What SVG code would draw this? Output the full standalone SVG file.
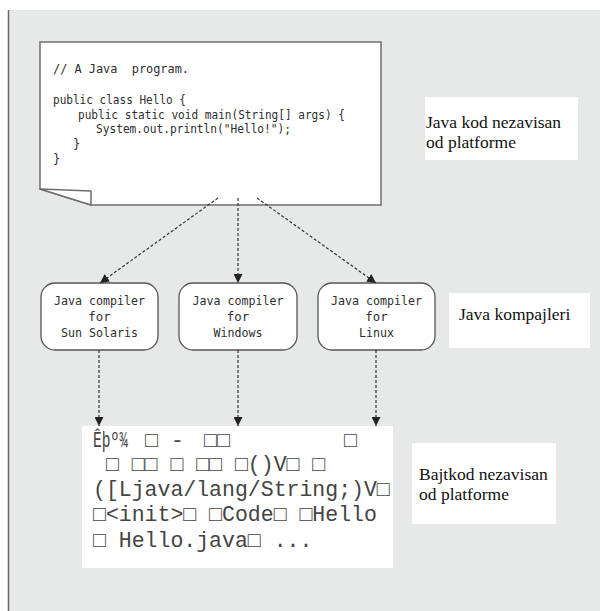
<svg xmlns="http://www.w3.org/2000/svg" width="600" height="611" viewBox="0 0 600 611">
<style>
.code{font-family:"DejaVu Sans Mono","Liberation Mono",monospace;font-size:12.2px;fill:#2e2e2e}
.comp{font-family:"DejaVu Sans Mono","Liberation Mono",monospace;font-size:12.4px;fill:#2e2e2e;text-anchor:middle}
.lbl{font-family:"Liberation Serif","Times New Roman",serif;font-size:17.5px;fill:#111}
.byte{font-family:"Liberation Mono","DejaVu Sans Mono",monospace;font-size:21.5px;fill:#444}
.lblbox{fill:#ffffff;stroke:none}
.cbox{fill:#ffffff;stroke:#555;stroke-width:1.3}
.conn{stroke:#333;stroke-width:1.2;stroke-dasharray:3 2;fill:none}
</style>
<defs>
<marker id="arr" markerUnits="userSpaceOnUse" markerWidth="9" markerHeight="9" refX="9" refY="4.5" orient="auto">
<path d="M0,0 L9,4.5 L0,9 z" fill="#222"/>
</marker>
</defs>
<g id="frame">
<rect x="0" y="0" width="600" height="611" fill="#ffffff"/>
<rect x="8" y="10" width="592" height="601" fill="#e7e9e9"/>
<line x1="8.5" y1="10" x2="8.5" y2="611" stroke="#666" stroke-width="1.5"/>
</g>
<g id="code-node">
<path d="M40,42 L381,42 L381,205 L91,205 L40,189 Z" fill="#ffffff" stroke="#6d6d6d" stroke-width="1.5"/>
<path d="M40,189 L91,191 L91,205 Z" fill="#ffffff" stroke="#6d6d6d" stroke-width="1.5" stroke-linejoin="round"/>
<text class="code" x="53" y="73" xml:space="preserve" textLength="136" lengthAdjust="spacingAndGlyphs">// A Java  program.</text>
<text class="code" x="53" y="104" textLength="133" lengthAdjust="spacingAndGlyphs">public class Hello {</text>
<text class="code" x="78" y="119" textLength="267" lengthAdjust="spacingAndGlyphs">public static void main(String[] args) {</text>
<text class="code" x="96" y="133" textLength="195" lengthAdjust="spacingAndGlyphs">System.out.println("Hello!");</text>
<text class="code" x="73" y="148">}</text>
<text class="code" x="53" y="163">}</text>
</g>
<g id="label-java-kod">
<rect class="lblbox" x="425" y="97" width="153" height="63"/>
<text class="lbl" x="426" y="128">Java kod nezavisan</text>
<text class="lbl" x="426" y="148">od platforme</text>
</g>
<g id="compiler-solaris">
<rect class="cbox" x="41" y="283" width="117" height="67" rx="14"/>
<text class="comp" x="99.5" y="305" textLength="91" lengthAdjust="spacingAndGlyphs">Java compiler</text>
<text class="comp" x="99.5" y="321">for</text>
<text class="comp" x="99.5" y="337" textLength="77" lengthAdjust="spacingAndGlyphs">Sun Solaris</text>
</g>
<g id="compiler-windows">
<rect class="cbox" x="179" y="283" width="118" height="67" rx="14"/>
<text class="comp" x="238" y="305" textLength="91" lengthAdjust="spacingAndGlyphs">Java compiler</text>
<text class="comp" x="238" y="321">for</text>
<text class="comp" x="238" y="337" textLength="49" lengthAdjust="spacingAndGlyphs">Windows</text>
</g>
<g id="compiler-linux">
<rect class="cbox" x="318" y="283" width="117" height="67" rx="14"/>
<text class="comp" x="376.5" y="305" textLength="91" lengthAdjust="spacingAndGlyphs">Java compiler</text>
<text class="comp" x="376.5" y="321">for</text>
<text class="comp" x="376.5" y="337" textLength="35" lengthAdjust="spacingAndGlyphs">Linux</text>
</g>
<g id="label-kompajleri">
<rect class="lblbox" x="449" y="293" width="141" height="55"/>
<text class="lbl" x="459" y="320">Java kompajleri</text>
</g>
<g id="bytecode-node">
<rect class="lblbox" x="82" y="426" width="311" height="142"/>
<text class="byte" y="447"><tspan x="93" textLength="35" lengthAdjust="spacingAndGlyphs">Êþº¾</tspan><tspan x="145">□</tspan><tspan x="171">-</tspan><tspan x="204">□□</tspan><tspan x="344">□</tspan></text>
<text class="byte" x="93" y="471" xml:space="preserve"> □ □□ □ □□ □()V□ □</text>
<text class="byte" x="93" y="496">([Ljava/lang/String;)V□</text>
<text class="byte" x="93" y="521">□&lt;init&gt;□ □Code□ □Hello</text>
<text class="byte" x="93" y="547">□ Hello.java□ ...</text>
</g>
<g id="label-bajtkod">
<rect class="lblbox" x="412" y="443" width="144" height="81"/>
<text class="lbl" x="419" y="480">Bajtkod nezavisan</text>
<text class="lbl" x="419" y="500">od platforme</text>
</g>
<g id="connectors">
<line class="conn" x1="218" y1="198" x2="100" y2="283" marker-end="url(#arr)"/>
<line class="conn" x1="238" y1="198" x2="238" y2="283" marker-end="url(#arr)"/>
<line class="conn" x1="257" y1="198" x2="376" y2="283" marker-end="url(#arr)"/>
<line class="conn" x1="99" y1="350" x2="99" y2="426" marker-end="url(#arr)"/>
<line class="conn" x1="238" y1="350" x2="238" y2="426" marker-end="url(#arr)"/>
<line class="conn" x1="376" y1="350" x2="376" y2="426" marker-end="url(#arr)"/>
</g>
</svg>
